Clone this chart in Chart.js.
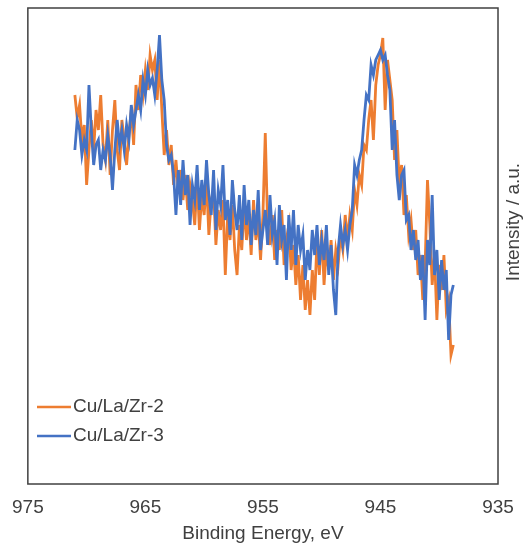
<!DOCTYPE html>
<html lang="en">
<head>
  <meta charset="UTF-8" />
  <title>Cu 2p XPS</title>
  <script src="https://cdn.jsdelivr.net/npm/chart.js"></script>
  <style>
    body {
      background: #fff;
      margin: 0;
      padding: 0;
    }
    .wrap {
      width: 527px;
      height: 548px;
    }
  </style>
</head>
<body>
  <div class="wrap">
    <canvas id="xpsChart" width="527" height="548"></canvas>
  </div>

  <script>
    // binding energy grid (eV), 0.2 eV steps from 971.0 down to 938.8
    const energy = [
      971.0, 970.8, 970.6, 970.4, 970.2, 970.0, 969.8, 969.6, 969.4, 969.2,
      969.0, 968.8, 968.6, 968.4, 968.2, 968.0, 967.8, 967.6, 967.4, 967.2,
      967.0, 966.8, 966.6, 966.4, 966.2, 966.0, 965.8, 965.6, 965.4, 965.2,
      965.0, 964.8, 964.6, 964.4, 964.2, 964.0, 963.8, 963.6, 963.4, 963.2,
      963.0, 962.8, 962.6, 962.4, 962.2, 962.0, 961.8, 961.6, 961.4, 961.2,
      961.0, 960.8, 960.6, 960.4, 960.2, 960.0, 959.8, 959.6, 959.4, 959.2,
      959.0, 958.8, 958.6, 958.4, 958.2, 958.0, 957.8, 957.6, 957.4, 957.2,
      957.0, 956.8, 956.6, 956.4, 956.2, 956.0, 955.8, 955.6, 955.4, 955.2,
      955.0, 954.8, 954.6, 954.4, 954.2, 954.0, 953.8, 953.6, 953.4, 953.2,
      953.0, 952.8, 952.6, 952.4, 952.2, 952.0, 951.8, 951.6, 951.4, 951.2,
      951.0, 950.8, 950.6, 950.4, 950.2, 950.0, 949.8, 949.6, 949.4, 949.2,
      949.0, 948.8, 948.6, 948.4, 948.2, 948.0, 947.8, 947.6, 947.4, 947.2,
      947.0, 946.8, 946.6, 946.4, 946.2, 946.0, 945.8, 945.6, 945.4, 945.2,
      945.0, 944.8, 944.6, 944.4, 944.2, 944.0, 943.8, 943.6, 943.4, 943.2,
      943.0, 942.8, 942.6, 942.4, 942.2, 942.0, 941.8, 941.6, 941.4, 941.2,
      941.0, 940.8, 940.6, 940.4, 940.2, 940.0, 939.8, 939.6, 939.4, 939.2,
      939.0, 938.8
    ];

    // Cu/La/Zr-2 intensity (a.u.)
    const cuLaZr2 = [
      389, 366, 379, 344, 359, 299, 334, 364, 334, 374,
      354, 389, 339, 324, 364, 309, 354, 384, 334, 314,
      364, 344, 319, 349, 374, 339, 399, 374, 409, 389,
      414, 394, 429, 414, 424, 384, 424, 374, 329, 354,
      319, 339, 299, 324, 294, 314, 284, 309, 274, 299,
      284, 259, 304, 254, 289, 269, 304, 249, 284, 294,
      239, 274, 254, 284, 209, 269, 244, 279, 234, 209,
      259, 234, 279, 244, 269, 229, 284, 244, 264, 224,
      269, 351, 259, 239, 269, 224, 254, 234, 274, 219,
      244, 259, 214, 239, 199, 229, 184, 219, 174, 204,
      169, 214, 184, 244, 209, 254, 199, 234, 214, 244,
      204, 234, 219, 249, 234, 269, 244, 269, 254, 294,
      279, 309, 299, 339, 334, 364, 384, 344, 399, 419,
      429, 446, 374, 424, 404, 384, 324, 354, 299, 319,
      269, 289, 249, 264, 234, 254, 209, 229, 184, 219,
      304, 259, 199, 229, 164, 219, 194, 229, 174, 184,
      129, 139
    ];

    // Cu/La/Zr-3 intensity (a.u.)
    const cuLaZr3 = [
      334, 364, 354, 329, 344, 334, 399, 354, 319, 339,
      344, 314, 334, 324, 349, 329, 294, 334, 364, 339,
      354, 334, 359, 344, 379, 359, 374, 389, 374, 404,
      389, 414, 399, 406, 389, 414, 449, 404, 384, 339,
      324, 329, 309, 269, 314, 279, 324, 289, 309, 259,
      299, 284, 319, 274, 304, 279, 324, 289, 269, 314,
      254, 294, 279, 319, 264, 284, 249, 304, 274, 254,
      289, 244, 299, 259, 284, 239, 274, 249, 294, 234,
      254, 274, 239, 289, 249, 264, 219, 279, 244, 259,
      204, 269, 234, 274, 219, 259, 234, 249, 204, 234,
      214, 254, 229, 259, 219, 244, 224, 259, 209, 239,
      194, 169, 234, 259, 239, 254, 234, 259, 274, 319,
      309, 324, 334, 364, 389, 384, 419, 409, 424, 429,
      434, 424, 429, 409, 394, 334, 364, 309, 284, 309,
      314, 264, 269, 234, 254, 224, 244, 204, 229, 164,
      244, 219, 289, 209, 234, 184, 224, 194, 214, 144,
      189, 199
    ];

    const seriesNames = ['Cu/La/Zr-2', 'Cu/La/Zr-3'];
    const seriesColors = ['#ED7D31', '#4472C4'];
    const xTicks = [975, 965, 955, 945, 935];

    const textColor = '#404040';
    const fontFamily = '"Liberation Sans", Arial, sans-serif';
    const fontSize = 19;

    // frame around the plot, right-hand axis title and the inset legend
    const framePlugin = {
      id: 'frame',
      afterDraw(chart) {
        const { ctx, chartArea: a } = chart;
        ctx.save();
        ctx.strokeStyle = '#404040';
        ctx.lineWidth = 1.5;
        ctx.strokeRect(a.left, a.top, a.right - a.left, a.bottom - a.top);

        ctx.fillStyle = textColor;
        ctx.font = fontSize + 'px ' + fontFamily;
        ctx.textAlign = 'center';
        ctx.textBaseline = 'middle';
        ctx.translate(514, 222);
        ctx.rotate(-Math.PI / 2);
        ctx.fillText('Intensity / a.u.', 0, 0);
        ctx.restore();

        ctx.save();
        ctx.font = fontSize + 'px ' + fontFamily;
        ctx.textAlign = 'left';
        ctx.textBaseline = 'middle';
        chart.data.datasets.forEach((ds, i) => {
          const y = 407 + i * 29;
          ctx.strokeStyle = ds.borderColor;
          ctx.lineWidth = 2.5;
          ctx.beginPath();
          ctx.moveTo(37, y);
          ctx.lineTo(71, y);
          ctx.stroke();
          ctx.fillStyle = textColor;
          ctx.fillText(ds.label, 73, y);
        });
        ctx.restore();
      }
    };

    const ctx = document.getElementById('xpsChart').getContext('2d');
    const xpsChart = new Chart(ctx, {
      type: 'line',
      data: {
        datasets: [
          {
            label: seriesNames[0],
            data: energy.map((e, i) => ({ x: e, y: cuLaZr2[i] })),
            borderColor: seriesColors[0],
            borderWidth: 2.8,
            pointRadius: 0,
            tension: 0,
            order: 2
          },
          {
            label: seriesNames[1],
            data: energy.map((e, i) => ({ x: e, y: cuLaZr3[i] })),
            borderColor: seriesColors[1],
            borderWidth: 2.8,
            pointRadius: 0,
            tension: 0,
            order: 1
          }
        ]
      },
      options: {
        responsive: false,
        animation: false,
        layout: {
          padding: { left: 27, top: 8, right: 29, bottom: 0 }
        },
        scales: {
          x: {
            type: 'linear',
            reverse: true,
            min: 935,
            max: 975,
            afterBuildTicks: scale => {
              scale.ticks = xTicks.map(v => ({ value: v }));
            },
            afterFit: scale => {
              scale.height = 64;
            },
            grid: { display: false, drawTicks: false },
            border: { display: false },
            ticks: {
              color: textColor,
              font: { family: fontFamily, size: fontSize },
              padding: 12,
              maxRotation: 0
            },
            title: {
              display: true,
              text: 'Binding Energy, eV',
              color: textColor,
              font: { family: fontFamily, size: fontSize },
              padding: { top: 0, bottom: 3 }
            }
          },
          y: {
            display: false,
            min: 0,
            max: 476
          }
        },
        plugins: {
          legend: { display: false },
          tooltip: { enabled: false }
        }
      },
      plugins: [framePlugin]
    });
  </script>
</body>
</html>
